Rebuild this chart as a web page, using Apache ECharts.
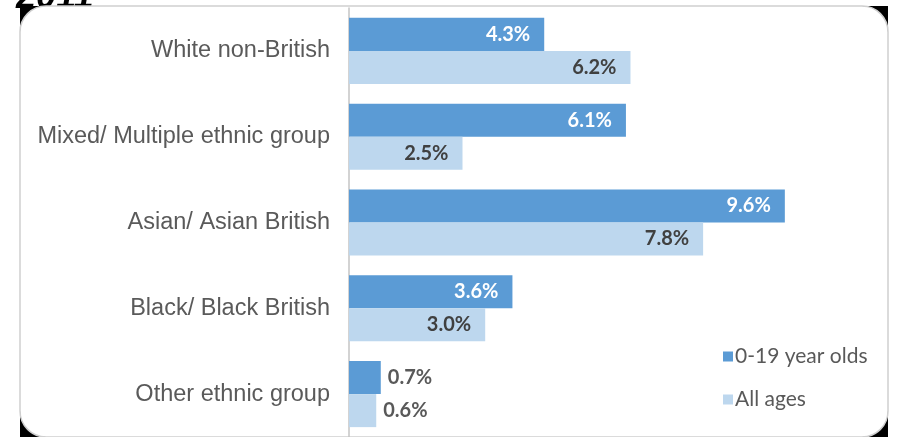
<!DOCTYPE html>
<html>
<head>
<meta charset="utf-8">
<script src="https://cdn.jsdelivr.net/npm/echarts@6/dist/echarts.min.js"></script>
<style>
  html, body { margin: 0; padding: 0; background: #ffffff; }
  #chart { width: 899px; height: 437px; }
</style>
</head>
<body>
<div id="chart"></div>
<script>
// Ethnic groups shown on the category axis (top to bottom)
const categories = [
  'White non-British',
  'Mixed/ Multiple ethnic group',
  'Asian/ Asian British',
  'Black/ Black British',
  'Other ethnic group'
];
// Share of population, percent
const youngValues = [4.3, 6.1, 9.6, 3.6, 0.7];   // 0-19 year olds
const allAgesValues = [6.2, 2.5, 7.8, 3.0, 0.6]; // All ages
const seriesNames = ['0-19 year olds', 'All ages'];

const DARK = '#5B9BD5';
const LIGHT = '#BDD7EE';
const LABEL_FONT = 'Lato, "Open Sans", sans-serif';

// Bars too short to hold their label get it written just past the end
function toData(values, insideColor) {
  return values.map(v => {
    if (v < 1) {
      return {
        value: v,
        label: { position: 'right', distance: 7, color: '#595959' }
      };
    }
    return { value: v, label: { color: insideColor } };
  });
}

const chart = echarts.init(document.getElementById('chart'), null, { renderer: 'canvas' });

chart.setOption({
  animation: false,
  backgroundColor: '#ffffff',
  graphic: {
    elements: [
      {
        type: 'text', z: -30,
        x: 16, y: 16,
        style: {
          text: '2011',
          font: 'italic bold 36px "Liberation Sans", Arial, sans-serif',
          fill: '#000',
          verticalAlign: 'bottom'
        }
      },
      {
        type: 'rect', z: -20,
        shape: { x: 20, y: 6, width: 868, height: 431 },
        style: { fill: '#000' }
      },
      {
        type: 'rect', z: -10,
        shape: { x: 20, y: 6, width: 868, height: 431, r: 26 },
        style: { fill: '#ffffff', stroke: '#cfcfcf', lineWidth: 1.5 }
      }
    ]
  },
  grid: { left: 349, right: 96, top: 8, bottom: 0, containLabel: false },
  xAxis: {
    type: 'value', min: 0, max: 10,
    show: false
  },
  yAxis: {
    type: 'category',
    data: categories,
    inverse: true,
    axisLine: { show: true, lineStyle: { color: '#c4c4c4', width: 1.5 } },
    axisTick: { show: false },
    axisLabel: {
      margin: 19,
      color: '#5a5a5a',
      fontFamily: '"Liberation Sans", Arial, sans-serif',
      fontSize: 23.5
    }
  },
  legend: {
    orient: 'vertical',
    left: 718, top: 341,
    data: seriesNames,
    icon: 'rect',
    itemWidth: 10, itemHeight: 10,
    itemGap: 22,
    textStyle: { color: '#595959', fontFamily: LABEL_FONT, fontSize: 21, padding: [0, 0, 0, -3] }
  },
  series: [
    {
      name: seriesNames[0],
      type: 'bar',
      data: toData(youngValues, '#ffffff'),
      barCategoryGap: '23%',
      barGap: '0%',
      itemStyle: { color: DARK },
      label: {
        show: true, position: 'insideRight', distance: 14,
        fontFamily: LABEL_FONT, fontWeight: 'bold', fontSize: 20,
        formatter: p => p.value.toFixed(1) + '%'
      }
    },
    {
      name: seriesNames[1],
      type: 'bar',
      data: toData(allAgesValues, '#404040'),
      barCategoryGap: '23%',
      barGap: '0%',
      itemStyle: { color: LIGHT },
      label: {
        show: true, position: 'insideRight', distance: 14,
        fontFamily: LABEL_FONT, fontWeight: 'bold', fontSize: 20,
        formatter: p => p.value.toFixed(1) + '%'
      }
    }
  ]
});
</script>
</body>
</html>
